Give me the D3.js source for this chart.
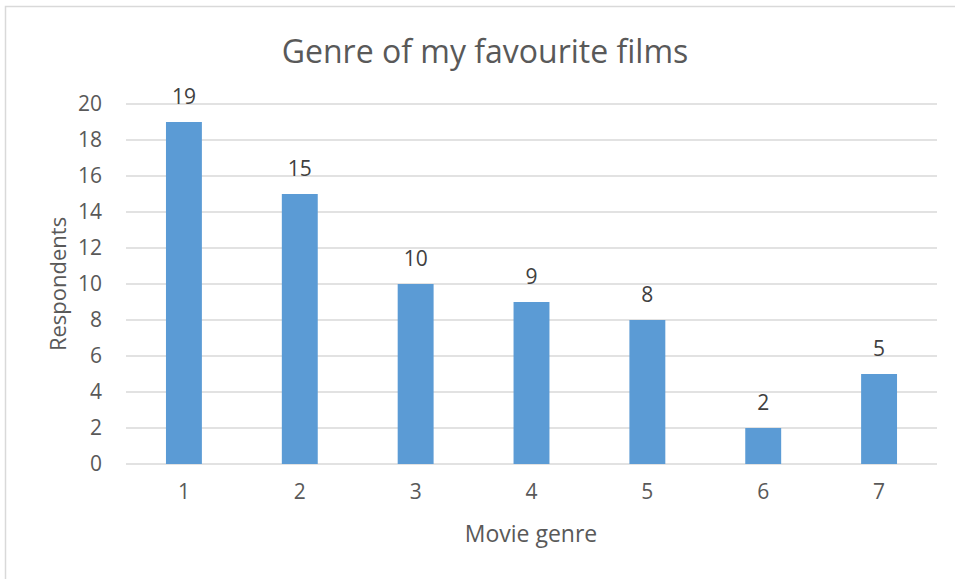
<!DOCTYPE html>
<html>
<head>
    <title>Genre of my favourite films</title>
    <script src="https://d3js.org/d3.v7.min.js"></script>
    <style>
        body { margin: 0; background: #fff; }
        text { font-family: "Open Sans", "Noto Sans", sans-serif; }
    </style>
</head>
<body>
<script>
    var w = 955;
    var h = 579;
    var genres = ["1", "2", "3", "4", "5", "6", "7"];
    var respondents = [19, 15, 10, 9, 8, 2, 5];
    var yTicks = [0, 2, 4, 6, 8, 10, 12, 14, 16, 18, 20];

    var plot = {left: 126, right: 937, top: 104, bottom: 464};

    var svg = d3.select("body").append("svg")
                .attr("width", w)
                .attr("height", h);

    // chart frame (runs past the right and bottom of the window)
    svg.append("rect")
       .attr("x", 5.5).attr("y", 6.5)
       .attr("width", w + 10).attr("height", h + 10)
       .attr("fill", "#fff")
       .attr("stroke", "#d9d9d9")
       .attr("stroke-width", 1.5);

    var xScale = d3.scaleBand()
                   .domain(genres)
                   .range([plot.left, plot.right])
                   .paddingInner(0.69)
                   .paddingOuter(0.345);
    var yScale = d3.scaleLinear()
                   .domain([0, 20])
                   .range([plot.bottom, plot.top]);

    // gridlines
    svg.append("g").selectAll("line")
       .data(yTicks)
       .enter().append("line")
       .attr("x1", plot.left).attr("x2", plot.right)
       .attr("y1", function(d){ return yScale(d); })
       .attr("y2", function(d){ return yScale(d); })
       .attr("stroke", "#d9d9d9")
       .attr("stroke-width", 1.3);

    // y axis labels
    var yAxis = svg.append("g")
                   .attr("transform", "translate(" + (plot.left - 14) + ",0)")
                   .call(d3.axisLeft(yScale).tickValues(yTicks).tickSize(0).tickPadding(10));
    yAxis.select(".domain").remove();
    yAxis.attr("font-size", 21).attr("font-family", "Open Sans, sans-serif");
    yAxis.selectAll("text").attr("fill", "#595959");

    // bars
    svg.selectAll("rect.bar")
       .data(respondents)
       .enter().append("rect")
       .attr("class", "bar")
       .attr("x", function(d, i){ return xScale(genres[i]); })
       .attr("y", function(d){ return yScale(d); })
       .attr("width", xScale.bandwidth())
       .attr("height", function(d){ return yScale(0) - yScale(d); })
       .attr("fill", "#5b9bd5");

    // data labels
    svg.selectAll("text.lbl")
       .data(respondents)
       .enter().append("text")
       .attr("class", "lbl")
       .text(function(d){ return d; })
       .attr("x", function(d, i){ return xScale(genres[i]) + xScale.bandwidth() / 2; })
       .attr("y", function(d){ return yScale(d) - 18; })
       .attr("text-anchor", "middle")
       .attr("font-size", 21)
       .attr("fill", "#404040");

    // x axis labels
    var xAxis = svg.append("g")
                   .attr("transform", "translate(0," + plot.bottom + ")")
                   .call(d3.axisBottom(xScale).tickSize(0).tickPadding(20));
    xAxis.select(".domain").remove();
    xAxis.attr("font-size", 21).attr("font-family", "Open Sans, sans-serif");
    xAxis.selectAll("text").attr("fill", "#595959");

    // titles
    svg.append("text")
       .text("Genre of my favourite films")
       .attr("x", 485).attr("y", 63)
       .attr("text-anchor", "middle")
       .attr("font-size", 32)
       .attr("fill", "#595959");

    svg.append("text")
       .text("Movie genre")
       .attr("x", 531).attr("y", 542)
       .attr("text-anchor", "middle")
       .attr("font-size", 23)
       .attr("fill", "#595959");

    svg.append("text")
       .text("Respondents")
       .attr("transform", "translate(66,284) rotate(-90)")
       .attr("text-anchor", "middle")
       .attr("font-size", 22)
       .attr("fill", "#595959");
</script>
</body>
</html>
